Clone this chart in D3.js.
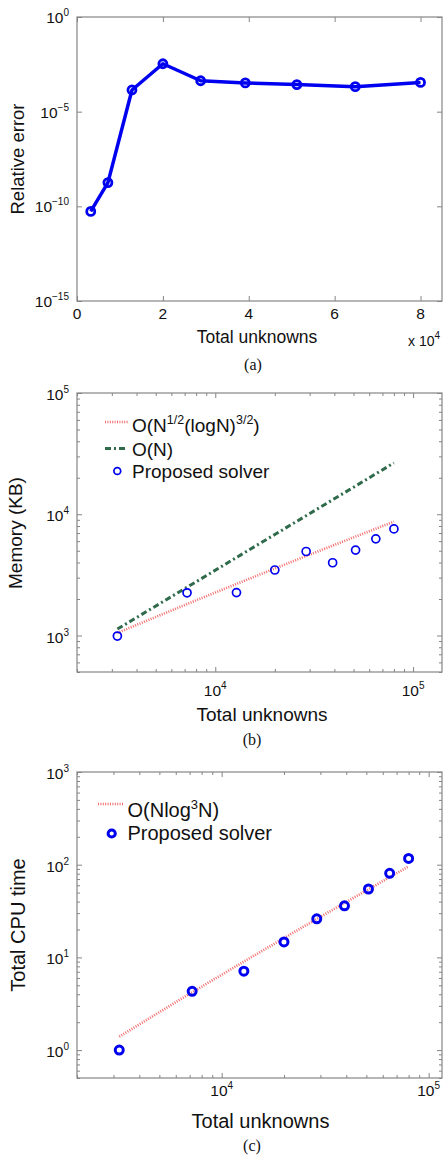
<!DOCTYPE html>
<html>
<head>
<meta charset="utf-8">
<script src="https://cdn.jsdelivr.net/npm/d3@7"></script>
<style>
  body { margin: 0; background: #fff; }
  text { font-family: Arial, "Liberation Sans", Helvetica, sans-serif; fill: #111; }
  .caption { font-family: "Times New Roman", "Liberation Serif", serif; }
</style>
</head>
<body>
<svg id="chart" width="443" height="1158"></svg>
<script>
// DATA
const unknowns = [3200, 7200, 12800, 20000, 28800, 39200, 51200, 64800, 80000];
const relError = [5.4e-11, 1.8e-9, 1.4e-4, 3.4e-3, 4.3e-4, 3.3e-4, 2.7e-4, 2.1e-4, 3.5e-4];
const memory = [990, 2250, 2260, 3470, 4930, 3980, 5060, 6270, 7570];
const memRefSqrtLog = [1050, 1818, 2663, 3569, 4521, 5513, 6541, 7601, 8685];
const memRefLinear = [1130, 2500, 4400, 6810, 9730, 13160, 17100, 21550, 26500];
const cpuTime = [1.0, 4.3, 7.1, 14.7, 26.1, 36.0, 54.7, 80.7, 117];
const cpuRef = [1.40, 4.20, 9.01, 16.17, 25.95, 38.6, 54.3, 73.3, 95.8];

// TICKS
const errXTicks = [0, 20000, 40000, 60000, 80000];
const errYTicks = [1e-15, 1e-10, 1e-5, 1];
const logXTicks = [1e4, 1e5];
const memYTicks = [1e3, 1e4, 1e5];
const cpuYTicks = [1e0, 1e1, 1e2, 1e3];

// COLOURS
const AXIS_COLOR = "#858585";
const BLUE = "#0000f0";
const RED = "#f26a6a";
const GREEN = "#2f6b4b";

const svg = d3.select("#chart");

// superscript label helper: parts = [[text, isSup], ...]
const richText = (g, x, y, parts, opts) => {
  const t = g.append("text")
    .attr("x", x).attr("y", y)
    .attr("text-anchor", opts.anchor || "start")
    .attr("font-size", opts.size);
  let raised = false;
  parts.forEach(([str, sup]) => {
    const ts = t.append("tspan").text(str);
    if (sup && !raised) { ts.attr("dy", -opts.rise).attr("font-size", opts.supSize); raised = true; }
    else if (sup) { ts.attr("font-size", opts.supSize); }
    else if (raised) { ts.attr("dy", opts.rise); raised = false; }
  });
  return t;
};

const powParts = d => {
  const e = Math.round(Math.log10(d));
  return [["10", false], [(e < 0 ? "\u2212" : "") + Math.abs(e), true]];
};

const drawFrame = (g, x, y, xMajor, yMajor, xMinor, yMinor) => {
  const [x0, x1] = x.range();
  const [yb, yt] = y.range();
  const sets = [[xMajor, yMajor, 5], [xMinor, yMinor, 3]];
  sets.forEach(([xv, yv, len]) => {
    if (xv.length) {
      g.append("g").attr("transform", `translate(0,${yb})`)
        .call(d3.axisBottom(x).tickValues(xv).tickSize(-len).tickFormat(""));
      g.append("g").attr("transform", `translate(0,${yt})`)
        .call(d3.axisTop(x).tickValues(xv).tickSize(-len).tickFormat(""));
    }
    if (yv.length) {
      g.append("g").attr("transform", `translate(${x0},0)`)
        .call(d3.axisLeft(y).tickValues(yv).tickSize(-len).tickFormat(""));
      g.append("g").attr("transform", `translate(${x1},0)`)
        .call(d3.axisRight(y).tickValues(yv).tickSize(-len).tickFormat(""));
    }
  });
  g.selectAll(".domain").remove();
  g.selectAll(".tick line").attr("stroke", AXIS_COLOR);
  g.append("rect")
    .attr("x", x0).attr("y", yt)
    .attr("width", x1 - x0).attr("height", yb - yt)
    .attr("fill", "none").attr("stroke", AXIS_COLOR).attr("stroke-width", 1.2);
};

const minorOf = (scale, majors) => scale.ticks().filter(v => !majors.includes(v));

const yTitle = (g, x, y, text, size) => {
  g.append("text")
    .attr("transform", `translate(${x},${y}) rotate(-90)`)
    .attr("text-anchor", "middle")
    .attr("font-size", size)
    .text(text);
};

const caption = (g, x, y, text) => {
  g.append("text").attr("class", "caption")
    .attr("x", x).attr("y", y)
    .attr("text-anchor", "middle")
    .attr("font-size", 16)
    .text(text);
};

// PANEL (a): relative error
const drawPanelA = () => {
  const g = svg.append("g");
  const x = d3.scaleLinear().domain([0, 85000]).range([77, 442]);
  const y = d3.scaleLog().domain([1e-15, 1]).range([301, 17]);
  drawFrame(g, x, y, errXTicks, errYTicks, [], []);

  g.selectAll(".xlab").data(errXTicks).join("text")
    .attr("x", d => x(d)).attr("y", 318.5)
    .attr("text-anchor", "middle").attr("font-size", 15.5)
    .text(d => d / 1e4);
  errYTicks.forEach(d => richText(g, 69, y(d) + 6, powParts(d),
    {anchor: "end", size: 15.5, supSize: 10, rise: 7}));

  const line = d3.line().x((_, i) => x(unknowns[i])).y(d => y(d));
  g.append("path").attr("d", line(relError))
    .attr("fill", "none").attr("stroke", BLUE)
    .attr("stroke-width", 3.5).attr("stroke-linejoin", "round");
  g.selectAll(".pt").data(relError).join("circle")
    .attr("cx", (_, i) => x(unknowns[i])).attr("cy", d => y(d))
    .attr("r", 4).attr("fill", "none")
    .attr("stroke", BLUE).attr("stroke-width", 2.8);

  g.append("text").attr("x", 257).attr("y", 343)
    .attr("text-anchor", "middle").attr("font-size", 17.5).text("Total unknowns");
  richText(g, 408, 346, [["x 10", false], ["4", true]], {size: 14, supSize: 10, rise: 7});
  yTitle(g, 24, 159, "Relative error", 18.5);
  caption(g, 253, 370, "(a)");
};

// PANEL (b): memory
const drawPanelB = () => {
  const g = svg.append("g");
  const x = d3.scaleLog().domain([2000, 1.4e5]).range([77, 442]);
  const y = d3.scaleLog().domain([500, 1e5]).range([672, 393]);
  drawFrame(g, x, y, logXTicks, memYTicks, minorOf(x, logXTicks), minorOf(y, memYTicks));

  logXTicks.forEach(d => richText(g, x(d), 696, powParts(d),
    {anchor: "middle", size: 15.5, supSize: 10, rise: 7}));
  memYTicks.forEach(d => richText(g, 69, y(d) + 7, powParts(d),
    {anchor: "end", size: 15.5, supSize: 10, rise: 7}));

  const line = d3.line().x((_, i) => x(unknowns[i])).y(d => y(d));
  g.append("path").attr("d", line(memRefSqrtLog))
    .attr("fill", "none").attr("stroke", RED)
    .attr("stroke-width", 2.6).attr("stroke-dasharray", "1,1.4");
  g.append("path").attr("d", line(memRefLinear))
    .attr("fill", "none").attr("stroke", GREEN)
    .attr("stroke-width", 3).attr("stroke-dasharray", "6,3,2,3");
  g.selectAll(".pt").data(memory).join("circle")
    .attr("cx", (_, i) => x(unknowns[i])).attr("cy", d => y(d))
    .attr("r", 4).attr("fill", "none")
    .attr("stroke", BLUE).attr("stroke-width", 1.7);

  // legend
  g.append("line").attr("x1", 105).attr("x2", 128).attr("y1", 422).attr("y2", 422)
    .attr("stroke", RED).attr("stroke-width", 2.6).attr("stroke-dasharray", "1,1.4");
  richText(g, 132, 432, [["O(N", false], ["1/2", true], ["(logN)", false], ["3/2", true], [")", false]],
    {size: 19, supSize: 12.5, rise: 8});
  g.append("line").attr("x1", 105).attr("x2", 128).attr("y1", 448.5).attr("y2", 448.5)
    .attr("stroke", GREEN).attr("stroke-width", 3).attr("stroke-dasharray", "6,3,2,3");
  g.append("text").attr("x", 132).attr("y", 455.5).attr("font-size", 19).text("O(N)");
  g.append("circle").attr("cx", 117.3).attr("cy", 471).attr("r", 3.4)
    .attr("fill", "none").attr("stroke", BLUE).attr("stroke-width", 1.7);
  g.append("text").attr("x", 132).attr("y", 478).attr("font-size", 19).text("Proposed solver");

  g.append("text").attr("x", 262).attr("y", 721)
    .attr("text-anchor", "middle").attr("font-size", 19).text("Total unknowns");
  yTitle(g, 21.5, 533, "Memory (KB)", 19);
  caption(g, 252, 745, "(b)");
};

// PANEL (c): CPU time
const drawPanelC = () => {
  const g = svg.append("g");
  const x = d3.scaleLog().domain([2000, 1.16e5]).range([77, 442]);
  const y = d3.scaleLog().domain([0.5, 1000]).range([1078, 772]);
  drawFrame(g, x, y, logXTicks, cpuYTicks, minorOf(x, logXTicks), minorOf(y, cpuYTicks));

  logXTicks.forEach(d => richText(g, x(d), 1096, powParts(d),
    {anchor: "middle", size: 15.5, supSize: 10, rise: 7}));
  cpuYTicks.forEach(d => richText(g, 69, y(d) + 7, powParts(d),
    {anchor: "end", size: 15.5, supSize: 10, rise: 7}));

  const line = d3.line().x((_, i) => x(unknowns[i])).y(d => y(d));
  g.append("path").attr("d", line(cpuRef))
    .attr("fill", "none").attr("stroke", RED)
    .attr("stroke-width", 2.6).attr("stroke-dasharray", "1,1.4");
  g.selectAll(".pt").data(cpuTime).join("circle")
    .attr("cx", (_, i) => x(unknowns[i])).attr("cy", d => y(d))
    .attr("r", 4).attr("fill", "none")
    .attr("stroke", BLUE).attr("stroke-width", 3);

  // legend
  g.append("line").attr("x1", 98).attr("x2", 123).attr("y1", 804).attr("y2", 804)
    .attr("stroke", RED).attr("stroke-width", 2.6).attr("stroke-dasharray", "1,1.4");
  richText(g, 127.5, 817, [["O(Nlog", false], ["3", true], ["N)", false]],
    {size: 20, supSize: 13, rise: 8});
  g.append("circle").attr("cx", 111.7).attr("cy", 833.5).attr("r", 3.6)
    .attr("fill", "none").attr("stroke", BLUE).attr("stroke-width", 3);
  g.append("text").attr("x", 127.5).attr("y", 840).attr("font-size", 20).text("Proposed solver");

  g.append("text").attr("x", 260.5).attr("y", 1128)
    .attr("text-anchor", "middle").attr("font-size", 20).text("Total unknowns");
  yTitle(g, 24.5, 925, "Total CPU time", 20);
  caption(g, 252, 1151, "(c)");
};

drawPanelA();
drawPanelB();
drawPanelC();
</script>
</body>
</html>
